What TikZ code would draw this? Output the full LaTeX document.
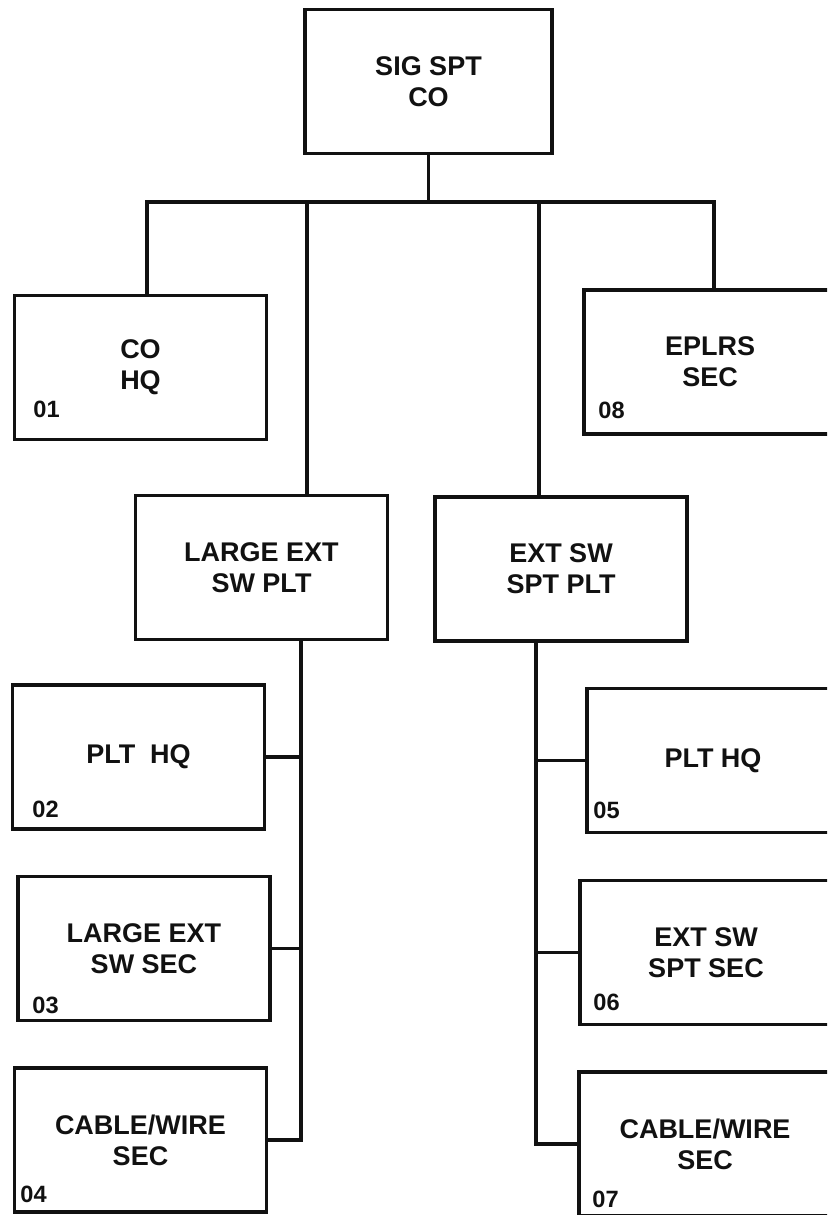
\documentclass[tikz,border=0pt]{standalone}
\usepackage{fontspec}
\setmainfont{Liberation Sans}
\usetikzlibrary{positioning,calc}
\definecolor{ink}{HTML}{111111}

\begin{document}
\begin{tikzpicture}[
  x=0.5pt, y=-0.5pt,
  unit/.style={
    draw=ink, line width=1.6pt, rectangle,
    minimum width=126pt, minimum height=72pt,
    inner sep=0pt, align=center, text=ink,
    font=\fontsize{13.5}{15.5}\selectfont\bfseries
  },
  num/.style={anchor=base west, inner sep=0pt, text=ink,
    font=\fontsize{11.8}{13}\selectfont\bfseries},
  link/.style={draw=ink, line width=1.6pt}
]

\useasboundingbox (0,0) rectangle (827,1215);
\clip (0,0) rectangle (827,1215);

%% ---------- company ----------
\node[unit, minimum width=123.5pt] (co) at (428.5,81.5) {SIG SPT\\CO};
\node[unit] (hq)    at (140.5,367.5) {CO\\HQ};
\node[unit] (eplrs) at (710,362)     {EPLRS\\SEC};

%% ---------- platoons ----------
\node[unit] (lplt) at (261.5,567.5) {LARGE EXT\\SW PLT};
\node[unit] (splt) at (561,569)     {EXT SW\\SPT PLT};

%% ---------- left sections ----------
\node[unit] (lhq)  at (138.5,757)  {PLT\ \ HQ};
\node[unit] (lsec) at (144,948.5)  {LARGE EXT\\SW SEC};
\node[unit] (lcw)  at (140.5,1140) {CABLE/WIRE\\SEC};

%% ---------- right sections ----------
\node[unit] (shq)  at (713,760.5) {PLT HQ};
\node[unit] (ssec) at (706,952.5) {EXT SW\\SPT SEC};
\node[unit] (scw)  at (705,1144)  {CABLE/WIRE\\SEC};

%% ---------- numbers ----------
\node[num] (n01) at (33,417)   {01};
\node[num] (n02) at (32,817)   {02};
\node[num] (n03) at (32,1013)  {03};
\node[num] (n04) at (20,1202)  {04};
\node[num] (n05) at (593,818)  {05};
\node[num] (n06) at (593,1010) {06};
\node[num] (n07) at (592,1207) {07};
\node[num] (n08) at (598,418)  {08};

%% ---------- bus ----------
\coordinate (busL) at (147,202);
\coordinate (busR) at (714,202);
\coordinate (jL) at (307,202);
\coordinate (jR) at (539,202);
\coordinate (trunkL) at (301,639.5);
\coordinate (trunkR) at (536,641);

\draw[link] (busL |- hq.north) -- (busL) -- (busR) -- (busR |- eplrs.north);
\draw[link] (co.south) -- (co.south |- busL);
\draw[link] (jL) -- (jL |- lplt.north);
\draw[link] (jR) -- (jR |- splt.north);

%% ---------- trunks ----------
\draw[link] (trunkL |- lplt.south) -- (trunkL |- lcw.east) -- (lcw.east);
\draw[link] (lhq.east) -- (lhq.east -| trunkL);
\draw[link] (lsec.east) -- (lsec.east -| trunkL);

\draw[link] (trunkR |- splt.south) -- (trunkR |- scw.west) -- (scw.west);
\draw[link] (shq.west) -- (shq.west -| trunkR);
\draw[link] (ssec.west) -- (ssec.west -| trunkR);

\end{tikzpicture}
\end{document}
